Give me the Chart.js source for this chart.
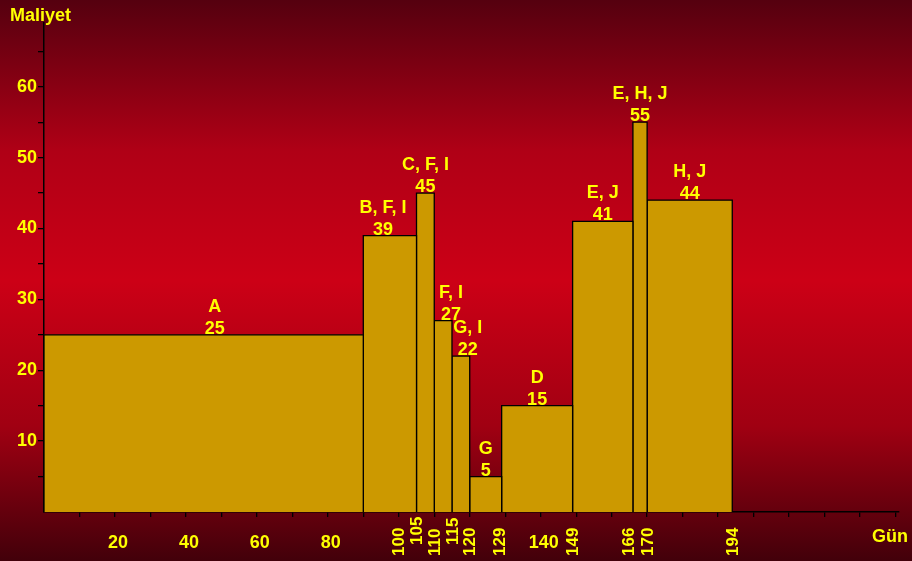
<!DOCTYPE html>
<html>
<head>
<meta charset="utf-8">
<script src="https://cdn.jsdelivr.net/npm/chart.js@4.4.1/dist/chart.umd.min.js"></script>
<style>
  html, body { margin: 0; padding: 0; background: #5a0010; }
  canvas { display: block; }
</style>
</head>
<body>
<canvas id="c" width="912" height="561"></canvas>
<script>
// ---- data ----
const segNames = ['A', 'B, F, I', 'C, F, I', 'F, I', 'G, I', 'G', 'D', 'E, J', 'E, H, J', 'H, J'];
const segStart = [0, 90, 105, 110, 115, 120, 129, 149, 166, 170];
const segEnd   = [90, 105, 110, 115, 120, 129, 149, 166, 170, 194];
const segCost  = [25, 39, 45, 27, 22, 5, 15, 41, 55, 44];
const xPlainTicks = [20, 40, 60, 80, 140];
const xBoundaryTicks = [100, 105, 110, 115, 120, 129, 149, 166, 170, 194];
const yTickLabels = [10, 20, 30, 40, 50, 60];
const yTitle = 'Maliyet';
const xTitle = 'Gün';

// ---- style ----
const FONT = "'Liberation Sans', Arial, sans-serif";
const YELLOW = '#ffff00';
const BAR_FILL = '#cc9900';
const BAR_EDGE = '#000000';
const labelShift = { 'A': 11, 'B, F, I': -7, 'F, I': 8, 'G, I': 7 };
const boundaryShift = { 166: -5, 129: -2 };
const boundaryRaised = [105, 115];

const datasets = segNames.map((name, i) => ({
  label: name,
  data: [
    { x: segStart[i], y: 0 },
    { x: segStart[i], y: segCost[i] },
    { x: segEnd[i], y: segCost[i] },
    { x: segEnd[i], y: 0 }
  ],
  fill: 'origin',
  backgroundColor: BAR_FILL,
  borderColor: BAR_EDGE,
  borderWidth: 1.3,
  pointRadius: 0,
  tension: 0,
  clip: false
}));

const bgPlugin = {
  id: 'bg',
  beforeDraw(chart) {
    const ctx = chart.ctx;
    const h = chart.height;
    const g = ctx.createLinearGradient(0, 0, 0, h);
    g.addColorStop(0, '#55000f');
    g.addColorStop(0.27, '#b00016');
    g.addColorStop(0.5, '#cc0016');
    g.addColorStop(0.76, '#a00012');
    g.addColorStop(1, '#42000a');
    ctx.save();
    ctx.fillStyle = g;
    ctx.fillRect(0, 0, chart.width, h);
    ctx.restore();
  }
};

const textPlugin = {
  id: 'texts',
  afterDraw(chart) {
    const ctx = chart.ctx;
    const xs = chart.scales.x, ys = chart.scales.y;
    ctx.save();
    ctx.fillStyle = YELLOW;
    // bar labels
    ctx.font = 'bold 18px ' + FONT;
    ctx.textAlign = 'center';
    ctx.textBaseline = 'alphabetic';
    segNames.forEach((name, i) => {
      const cx = (xs.getPixelForValue(segStart[i]) + xs.getPixelForValue(segEnd[i])) / 2 + (labelShift[name] || 0);
      const top = ys.getPixelForValue(segCost[i]);
      ctx.fillText(String(segCost[i]), cx, top - 1);
      ctx.fillText(name, cx, top - 23);
    });
    // titles
    ctx.textAlign = 'left';
    ctx.fillText(yTitle, 10, 21);
    ctx.fillText(xTitle, 872, 542);
    // rotated boundary labels
    ctx.font = 'bold 17px ' + FONT;
    ctx.textBaseline = 'middle';
    xBoundaryTicks.forEach(v => {
      const x = xs.getPixelForValue(v) + (boundaryShift[v] || 0);
      const y = boundaryRaised.includes(v) ? 545 : 556;
      ctx.save();
      ctx.translate(x, y);
      ctx.rotate(-Math.PI / 2);
      ctx.textAlign = 'left';
      ctx.fillText(String(v), 0, 1);
      ctx.restore();
    });
    ctx.restore();
  }
};

new Chart(document.getElementById('c'), {
  type: 'line',
  data: { datasets },
  plugins: [bgPlugin, textPlugin],
  options: {
    responsive: false,
    animation: false,
    devicePixelRatio: 1,
    layout: { padding: { top: 23, right: 13, left: 0, bottom: 0 } },
    plugins: { legend: { display: false }, tooltip: { enabled: false } },
    scales: {
      x: {
        type: 'linear',
        min: 0,
        max: 241,
        afterFit(s) { s.height = 49; },
        border: { display: true, color: '#000', width: 1.5 },
        grid: {
          drawOnChartArea: false,
          drawTicks: true,
          tickLength: 5,
          color: ctx => (ctx.tick && ctx.tick.value === 0) ? 'rgba(0,0,0,0)' : '#000',
          lineWidth: 1.3
        },
        ticks: {
          stepSize: 10,
          includeBounds: false,
          autoSkip: false,
          maxRotation: 0,
          minRotation: 0,
          padding: 15,
          labelOffset: 3,
          color: YELLOW,
          font: { family: FONT, size: 18, weight: 'bold' },
          callback: v => xPlainTicks.includes(v) ? String(v) : ''
        }
      },
      y: {
        min: 0,
        max: 69,
        afterFit(s) { s.width = 44; },
        border: { display: true, color: '#000', width: 1.5 },
        grid: {
          drawOnChartArea: false,
          drawTicks: true,
          tickLength: 6,
          color: ctx => (ctx.tick && ctx.tick.value === 0) ? 'rgba(0,0,0,0)' : '#000',
          lineWidth: 1.3
        },
        ticks: {
          stepSize: 5,
          includeBounds: false,
          autoSkip: false,
          padding: 1,
          color: YELLOW,
          font: { family: FONT, size: 18, weight: 'bold' },
          callback: v => yTickLabels.includes(v) ? String(v) : ''
        }
      }
    }
  }
});
</script>
</body>
</html>
